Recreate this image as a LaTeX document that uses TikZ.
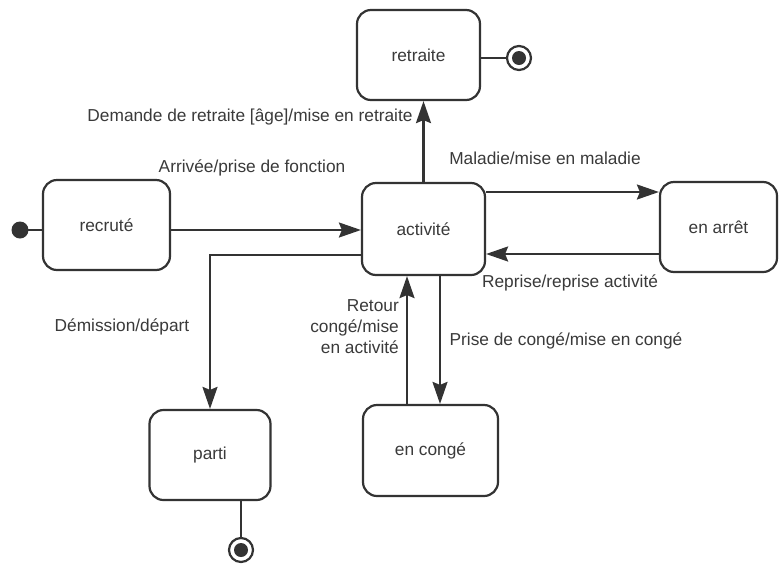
\documentclass[tikz,border=0pt]{standalone}
\usepackage{fontspec}
\setmainfont{Liberation Sans}
\usetikzlibrary{arrows.meta}
\definecolor{ln}{HTML}{333333}
\definecolor{tx}{HTML}{3A3A3A}
\begin{document}
\begin{tikzpicture}[x=1pt,y=-1pt,
  state/.style={draw=ln, line width=2.2pt, rounded corners=14pt, fill=white, inner sep=0,
    font=\fontsize{17.3}{20}\selectfont, text=tx},
  tr/.style={draw=ln, line width=2.2pt, -{Stealth[length=22pt,width=15pt,inset=3pt]}},
  plain/.style={draw=ln, line width=2.2pt},
  lbl/.style={text=tx, font=\fontsize{17.3}{21}\selectfont, inner sep=0},
  initst/.style={circle, fill=ln, minimum size=17pt, inner sep=0},
  finalst/.style={circle, draw=ln, line width=2.2pt, fill=white, minimum size=24pt, inner sep=0,
    path picture={\fill[ln] (path picture bounding box.center) circle (7pt);}}]
\useasboundingbox (0,0) rectangle (779,563);
\fill[white] (0,0) rectangle (779,563);

% states
\node[state, minimum width=123pt, minimum height=90pt] (retraite) at (418.5,55) {retraite};
\node[state, minimum width=127pt, minimum height=90pt] (recrute) at (106.5,225) {recruté};
\node[state, minimum width=123pt, minimum height=92pt] (activite) at (423.5,229) {activité};
\node[state, minimum width=117pt, minimum height=90pt] (arret) at (718.5,227) {en arrêt};
\node[state, minimum width=121pt, minimum height=90pt] (parti) at (210,455) {parti};
\node[state, minimum width=135pt, minimum height=91pt] (conge) at (430.5,450.5) {en congé};

% pseudo states
\node[initst] (init) at (20,230) {};
\node[finalst] (fin1) at (519,58) {};
\node[finalst] (fin2) at (241,550) {};

% helper coordinates
\coordinate (yA) at (0,192);
\coordinate (yB) at (0,254);
\coordinate (yD) at (0,255);
\coordinate (xR) at (407,0);
\coordinate (xP) at (440,0);

% connectors
\draw[plain] (init.center) -- (init.center -| recrute.west);
\draw[tr] (recrute.east |- init) -- (activite.west |- init);
\draw[tr] (activite.north) -- (activite.north |- retraite.south);
\draw[plain] (retraite.east |- fin1) -- (fin1.west);
\draw[tr] (activite.east |- yA) -- (arret.west |- yA);
\draw[tr] (arret.west |- yB) -- (activite.east |- yB);
\draw[tr] (activite.west |- yD) -| (parti.north);
\draw[tr] (conge.north -| xR) -- (activite.south -| xR);
\draw[tr] (activite.south -| xP) -- (conge.north -| xP);
\draw[plain] (fin2 |- parti.south) -- (fin2.north);

% labels
\node[lbl] (l1) at (250,117) {Demande de retraite [âge]/mise en retraite};
\node[lbl] (l2) at (252,168) {Arrivée/prise de fonction};
\node[lbl] (l3) at (545,158) {Maladie/mise en maladie};
\node[lbl] (l4) at (570,283) {Reprise/reprise activité};
\node[lbl] (l5) at (122,327) {Démission/départ};
\node[lbl, align=right, anchor=east, font=\fontsize{17.3}{21}\selectfont] (l6) at (399,327) {Retour\\congé/mise\\en activité};
\node[lbl] (l7) at (566,341) {Prise de congé/mise en congé};
\end{tikzpicture}
\end{document}
